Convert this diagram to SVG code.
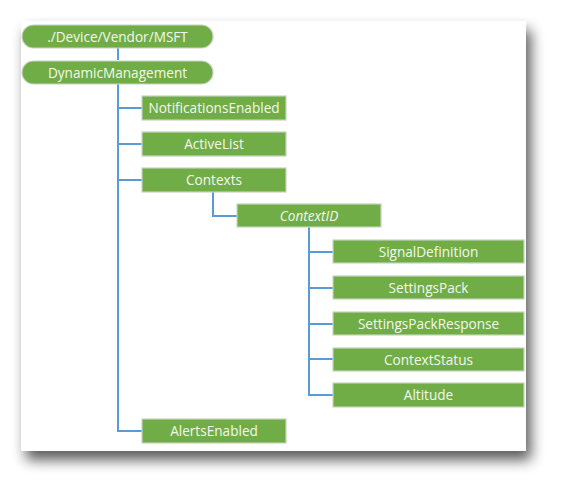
<svg xmlns="http://www.w3.org/2000/svg" width="568" height="491" viewBox="0 0 568 491">
<defs>
<filter id="sh" x="-10%" y="-10%" width="125%" height="125%">
<feGaussianBlur in="SourceAlpha" stdDeviation="7"/>
<feOffset dx="5" dy="9" result="b"/>
<feComponentTransfer><feFuncA type="linear" slope="0.65"/></feComponentTransfer>
<feMerge><feMergeNode/><feMergeNode in="SourceGraphic"/></feMerge>
</filter>
</defs>
<style>
.n{fill:#70ad47;stroke:#c9d3c0;stroke-width:1.2}
.t{font-family:"Open Sans","Noto Sans",sans-serif;font-size:13.6px;fill:#f4f8ec;text-anchor:middle;dominant-baseline:central}
.c{fill:none;stroke:#5b9bd5;stroke-width:2}
</style>
<rect width="568" height="491" fill="#ffffff"/>
<rect x="21" y="21" width="505" height="430" fill="#ffffff" filter="url(#sh)"/>
<g id="connectors">
<path class="c" d="M118 48V60"/>
<path class="c" d="M118 84V431H142M118 108H142M118 144H142M118 180H142"/>
<path class="c" d="M213 192V216H237"/>
<path class="c" d="M309 227V395H333M309 252H333M309 288H333M309 324H333M309 359H333"/>
</g>
<g id="n-msft"><rect class="n" x="22" y="25" width="191" height="23" rx="11.5"/><text class="t" x="117.5" y="36">./Device/Vendor/MSFT</text></g>
<g id="n-dm"><rect class="n" x="22" y="61" width="191" height="23" rx="11.5"/><text class="t" x="117.5" y="72">DynamicManagement</text></g>
<g id="n-notif"><rect class="n" x="142" y="96" width="144" height="24"/><text class="t" x="214" y="107.5">NotificationsEnabled</text></g>
<g id="n-active"><rect class="n" x="142" y="132" width="144" height="24"/><text class="t" x="214" y="143.5">ActiveList</text></g>
<g id="n-contexts"><rect class="n" x="142" y="168" width="144" height="24"/><text class="t" x="214" y="179.5">Contexts</text></g>
<g id="n-contextid"><rect class="n" x="237" y="204" width="144" height="23"/><text class="t" x="309" y="215" font-style="italic">ContextID</text></g>
<g id="n-signal"><rect class="n" x="333" y="240" width="191" height="23"/><text class="t" x="428.5" y="251">SignalDefinition</text></g>
<g id="n-sp"><rect class="n" x="333" y="276" width="191" height="23"/><text class="t" x="428.5" y="287">SettingsPack</text></g>
<g id="n-spr"><rect class="n" x="333" y="312" width="191" height="23"/><text class="t" x="428.5" y="323">SettingsPackResponse</text></g>
<g id="n-cs"><rect class="n" x="333" y="348" width="191" height="23"/><text class="t" x="428.5" y="359">ContextStatus</text></g>
<g id="n-alt"><rect class="n" x="333" y="383" width="191" height="24"/><text class="t" x="428.5" y="394.5">Altitude</text></g>
<g id="n-alerts"><rect class="n" x="142" y="419" width="144" height="24"/><text class="t" x="214" y="430.5">AlertsEnabled</text></g>
</svg>
